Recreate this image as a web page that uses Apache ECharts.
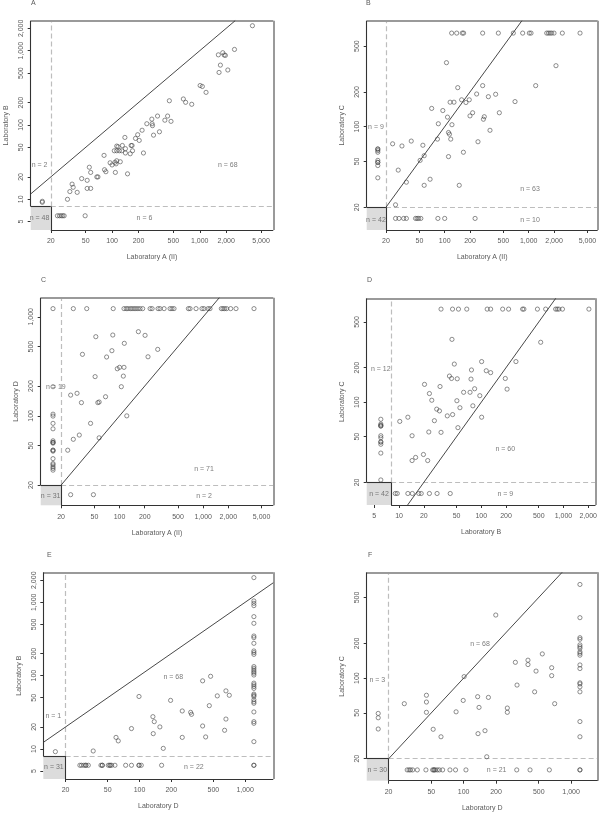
<!DOCTYPE html>
<html><head><meta charset="utf-8">
<script src="https://cdn.jsdelivr.net/npm/echarts@6/dist/echarts.min.js"></script>
<style>html,body{margin:0;padding:0;background:#fff}#c{width:600px;height:814px}</style>
</head><body><div id="c"></div>
<script>
// ---------- tick label values ----------
const ticksLabA = [20, 50, 100, 200, 500, 1000, 2000, 5000];
const ticksLabB = [5, 10, 20, 50, 100, 200, 500, 1000, 2000];
const ticksLabC = [20, 50, 100, 200, 500];
const ticksLabD = [20, 50, 100, 200, 500, 1000];

// ---------- Panel A : Lab A (II) vs Lab B ----------
const aBoth = [[3990,2170],[2490,1040],[1830,940],[1900,875],[1960,865],[1630,880],[1720,640],[2090,550],[1660,510],[1010,340],[1070,330],[1180,275],[450,212],[650,224],[690,202],[810,190],[330,132],[430,132],[284,120],[400,116],[470,112],[249,104],[286,104],[289,98],[220,85],[347,81],[196,74],[297,73],[140,68],[185,66],[204,62],[113,52],[117,51],[131,53],[165,53],[169,53],[106,45],[113,45],[121,45],[129,45],[142,48],[142,42],[171,45],[81,39],[161,41],[228,42],[95,31],[100,29],[113,33],[111,30],[108,31.5],[124,32],[82,25],[85,23.5],[55,27],[109,23],[150,22],[57,23],[45,19],[52,18],[69,20],[67,20],[52,14],[57,14],[35,16],[36,14.5],[33,12.7],[40,12.4],[31,10]];
const aLeftY = [9.1, 9.4];                 // x below LOD (plotted at 16)
const aBottomX = [23.8, 25.1, 26.3, 27.4, 28.4, 49.3]; // y below LOD (plotted at 6)

// ---------- Panel B : Lab A (II) vs Lab C ----------
const bBoth = [[105,359],[2110,338],[143,218],[283,227],[1210,227],[240,192],[404,191],[331,182],[159,171],[196,171],[179,162],[116,163],[129,163],[687,165],[70,144],[95,138],[215,132],[447,132],[108,121],[200,124],[296,122],[289,116],[84,106],[122,104],[346,93],[111,89],[114,86],[82,78],[118,78],[249,74],[24,71],[31,68],[40,75],[55,69],[167,60],[111,55],[57,56],[51,51],[28,42],[35,33],[57,31],[67,35],[149,31],[26,21]];
const bTopX = [121,139,162,168,283,435,656,847,1017,1065,1637,1712,1793,1877,2000,2512,4080]; // Lab C above range (648)
const bLeftY = [64,64,62,60,51,49,49,46,36];
const bBottomX = [26,28.6,32.5,35,45,47,49,52,83,100,230];

// ---------- Panel C : Lab A (II) vs Lab D ----------
const cBoth = [[83,655],[168,708],[202,650],[52,630],[114,540],[81,455],[286,469],[36,418],[70,393],[219,395],[94,299],[100,309],[113,309],[51,249],[111,252],[26,162],[31,169],[105,197],[35,136],[55,136],[57,138],[68,156],[122,100],[45,84],[33,64],[28,58],[57,60],[24,45]];
const cTopX = [28,40.5,84,113,120,126,134,141,149,157,166,176,189,232,245,289,305,341,402,424,448,666,697,822,968,1023,1143,1207,1650,1727,1808,1910,2132,2470,4055]; // Lab D above range (1210)
const cLeftY = [1210,197,104,99.5,84,74,56,54,54,53,45,45,44,37,33,32,30.6,29.5,28.3];
const cBottomX = [26, 48.7];

// ---------- Panel D : Lab B vs Lab C ----------
const dBoth = [[44,353],[528,333],[101,226],[47,215],[264,226],[115,188],[130,181],[76,191],[41,169],[43.5,161],[51,160],[75,159],[196,161],[20.4,143],[31.5,137],[61,122],[73,122],[23.4,119],[83,131],[206,130],[25,104],[50.5,103],[96,114],[55,89.5],[79,93],[28.7,87],[31,84],[38.6,76],[44.8,78],[101,74],[12.8,74],[10.2,68],[26.9,69],[52,60],[23,55],[14.4,51],[32.4,54.6],[19.8,35],[15.9,33],[14.4,31],[22.3,31]];
const dTopX = [32.4,44.7,52.8,66.6,118,130,182,215,318,330,482,607,802,839,879,972,2038];
const dLeftY = [71,64.5,63,62,62,51,49,45,45,43,36,21];
const dBottomX = [9.0,9.5,12.8,14.5,17.4,18.6,23.4,29,41.9];

// ---------- Panel E : Lab D vs Lab B ----------
const eBoth = [[99,52],[197,46],[396,85],[471,98],[545,53],[658,62],[708,54],[458,39],[254,33],[305,31.6],[311,29.7],[658,25.6],[134,27.6],[138,23.6],[156,20],[396,20.6],[639,18],[84,19],[60,14.4],[63,12.9],[135,16.2],[254,14.4],[423,14.6],[36.5,9.4],[168,10.2]];
const eRightY = [2170,1043,969,901,638,517,347,330,276,217,206,195,133,126,119,113,108,102,79,75,71,67,56,54,52,47,44,42,32,23.6,22.4,12.6]; // Lab D above range (1210)
const eLeftY = [9.2];
const eBottomX = [27.3,28.3,29.8,31.1,31.1,32.8,43.2,44.5,44.5,50.7,52.6,52.6,54.5,58.6,74,84,99,99,104,162,1210,1210];

// ---------- Panel F : Lab D vs Lab C ----------
const fBoth = [[199,352],[540,162],[303,137],[397,143],[397,131],[472,115],[660,123],[660,105],[101,103],[314,87],[458,76],[45,71],[45,62],[28,60],[99,64],[135,69],[170,68],[704,60],[45,50.5],[85,51],[139,55.7],[255,55],[255,50.5],[52,36],[61.5,31],[136,33],[158,35],[164,20.8]];
const fRightY = [648,334,224,217,194,187,181,169,164,158,130,121,91,89,84,76,42,31];
const fLeftY = [49.4,45.3,36.2];
const fBottomX = [29.8,31,32,33.5,37,44.5,51.4,52.9,52.9,54.4,56.8,59.3,63.7,74.5,84,105,312,415,628,1210,1210];

// placeholder values for censored results / over-range values
const CENS20 = 16, CENS8 = 6, CAP_C = 648, CAP_D = 1210;

// ---------- build ----------
const FONT = 'Liberation Sans, Arial, Helvetica, sans-serif';
const TXT = '#5a5a5a';
const px = (xs, y) => xs.map(x => [x, y]);
const py = (x, ys) => ys.map(y => [x, y]);

const panels = [
  { letter:'A', lpos:[31,0], grid:[30.7,20.7,242.6,209.3], xr:[11.8,6900], yr:[3.86,2535], lod:[20,8],
    xt:ticksLabA, yt:ticksLabB, xn:'Laboratory A (II)', yn:'Laboratory B',
    pts:[aBoth, py(CENS20,aLeftY), px(aBottomX,CENS8)],
    ann:[[14.9,29,'n = 2'],[2090,29,'n = 68'],[234,5.66,'n = 6'],[14.9,5.6,'n = 48']] },
  { letter:'B', lpos:[366,0], grid:[366.7,20.7,231,209.3], xr:[11.8,6620], yr:[12.7,830], lod:[20,20],
    xt:ticksLabA, yt:ticksLabC, xn:'Laboratory A (II)', yn:'Laboratory C',
    pts:[bBoth, px(bTopX,CAP_C), py(CENS20,bLeftY), px(bBottomX,CENS20)],
    ann:[[15.2,99,'n = 9'],[1035,29,'n = 63'],[1035,15.6,'n = 10'],[15.2,15.6,'n = 42']] },
  { letter:'C', lpos:[41,277], grid:[40.7,297.7,232.6,207.6], xr:[11.4,6900], yr:[12.5,1560], lod:[20,20],
    xt:ticksLabA, yt:ticksLabD, xn:'Laboratory A (II)', yn:'Laboratory D',
    pts:[cBoth, px(cTopX,CAP_D), py(CENS20,cLeftY), px(cBottomX,CENS20)],
    ann:[[17.3,194,'n = 19'],[1024,29,'n = 71'],[1024,15.5,'n = 2'],[15,15.5,'n = 31']] },
  { letter:'D', lpos:[367,277], grid:[366.7,298.3,231,206.7], xr:[4.04,2453], yr:[12.7,805], lod:[8,20],
    xt:ticksLabB, yt:ticksLabC, xn:'Laboratory B', yn:'Laboratory C',
    pts:[dBoth, px(dTopX,CAP_C), py(CENS8,dLeftY), px(dBottomX,CENS20)],
    ann:[[6,193,'n = 12'],[196,39,'n = 60'],[196,15.7,'n = 9'],[5.7,15.7,'n = 42']] },
  { letter:'E', lpos:[47,552], grid:[43.3,572.3,230,206.7], xr:[12.3,1847], yr:[3.9,2565], lod:[20,8],
    xt:ticksLabD, yt:ticksLabB, xn:'Laboratory D', yn:'Laboratory B',
    pts:[eBoth, py(CAP_D,eRightY), py(CENS20,eLeftY), px(eBottomX,CENS8)],
    ann:[[15.3,28.5,'n = 1'],[209,97,'n = 68'],[327,5.7,'n = 22'],[15.5,5.7,'n = 31']] },
  { letter:'F', lpos:[368,552], grid:[366.7,572.3,231,208.4], xr:[12.5,1771], yr:[12.9,826], lod:[20,20],
    xt:ticksLabD, yt:ticksLabC, xn:'Laboratory D', yn:'Laboratory C',
    pts:[fBoth, py(CAP_D,fRightY), py(CENS20,fLeftY), px(fBottomX,CENS20)],
    ann:[[15.7,97,'n = 3'],[142,196,'n = 68'],[203,16,'n = 21'],[15.7,16,'n = 30']] }
];

const fmt = v => (v >= 1000 ? Number(v).toLocaleString('en-US') : String(v));
const option = { animation:false, backgroundColor:'#fff', grid:[], xAxis:[], yAxis:[], series:[], graphic:[] };

panels.forEach((p, i) => {
  const [gl, gt, gw, gh] = p.grid;
  option.grid.push({ left:gl, top:gt, width:gw, height:gh, show:false });
  const axisCommon = (ticks, name) => ({
    type:'log', logBase:10, gridIndex:i, name, nameLocation:'middle',
    nameTextStyle:{ fontSize:7, color:TXT, fontFamily:FONT },
    axisLine:{ show:false }, splitLine:{ show:false },
    axisTick:{ show:true, customValues:ticks, length:3, lineStyle:{ color:'#333', width:1 } },
    axisLabel:{ customValues:ticks, formatter:fmt, fontSize:7, color:TXT, fontFamily:FONT, hideOverlap:false }
  });
  const xa = axisCommon(p.xt, p.xn);
  xa.min = p.xr[0]; xa.max = p.xr[1]; xa.nameGap = 24; xa.axisLabel.margin = 8;
  const ya = axisCommon(p.yt, p.yn);
  ya.min = p.yr[0]; ya.max = p.yr[1]; ya.nameGap = 21; ya.axisLabel.margin = 6; ya.axisLabel.rotate = 90;
  option.xAxis.push(xa); option.yAxis.push(ya);

  const [x0, x1] = p.xr, [y0, y1] = p.yr, [lx, ly] = p.lod;
  const e = 1.0005;
  const xa0 = x0*e, xb = x1/e, ya0 = y0*e, yb = y1/e;
  const frame = { color:'#9a9a9a', width:2, type:'solid' };
  const dark = { color:'#333', width:1.1, type:'solid' };
  const dash = { color:'#bdbdbd', width:1.2, type:[5,3] };
  const diag = { color:'#333', width:0.9, type:'solid' };
  const seg = (a, b, s) => [{ coord:a, lineStyle:s }, { coord:b }];
  const s = Math.max(x0, y0, Math.min(lx, ly)) * e, t = Math.min(x1, y1) / e;

  option.series.push({
    type:'scatter', xAxisIndex:i, yAxisIndex:i, silent:true, z:3,
    data:[], symbolSize:0,
    markArea:{ silent:true, z:1, itemStyle:{ color:'#dcdcdc' }, label:{ show:false },
      data:[[{ coord:[xa0, ya0] }, { coord:[lx, ly] }]] },
    markLine:{ silent:true, z:2, symbol:['none','none'], label:{ show:false }, animation:false,
      data:[
        seg([lx, ly], [lx, yb], dash),
        seg([lx, ly], [xb, ly], dash),
        seg([xa0, yb], [xb, yb], frame),
        seg([xb, ya0], [xb, yb], frame),
        seg([xa0, ly], [xa0, yb], dark),
        seg([xa0, ly], [lx, ly], dark),
        seg([lx, ya0], [lx, ly], dark),
        seg([lx, ya0], [xb, ya0], dark),
        seg([s, s], [t, t], diag)
      ] }
  });
  option.series.push({
    type:'scatter', xAxisIndex:i, yAxisIndex:i, silent:true, z:5,
    data:[].concat(...p.pts), symbol:'circle', symbolSize:4.2,
    itemStyle:{ color:'rgba(0,0,0,0)', borderColor:'#444', borderWidth:0.75 }
  });
  option.series.push({
    type:'scatter', xAxisIndex:i, yAxisIndex:i, silent:true, z:6, symbolSize:0,
    data:p.ann.map(a => ({ value:[a[0], a[1]], name:a[2] })),
    label:{ show:true, formatter:'{b}', position:'inside', fontSize:7, color:TXT, fontFamily:FONT }
  });
  option.graphic.push({ type:'text', left:p.lpos[0], top:p.lpos[1],
    style:{ text:p.letter, fontSize:7, fill:TXT, fontFamily:FONT } });
});

const chart = echarts.init(document.getElementById('c'), null, { renderer:'canvas' });
chart.setOption(option);
</script></body></html>
